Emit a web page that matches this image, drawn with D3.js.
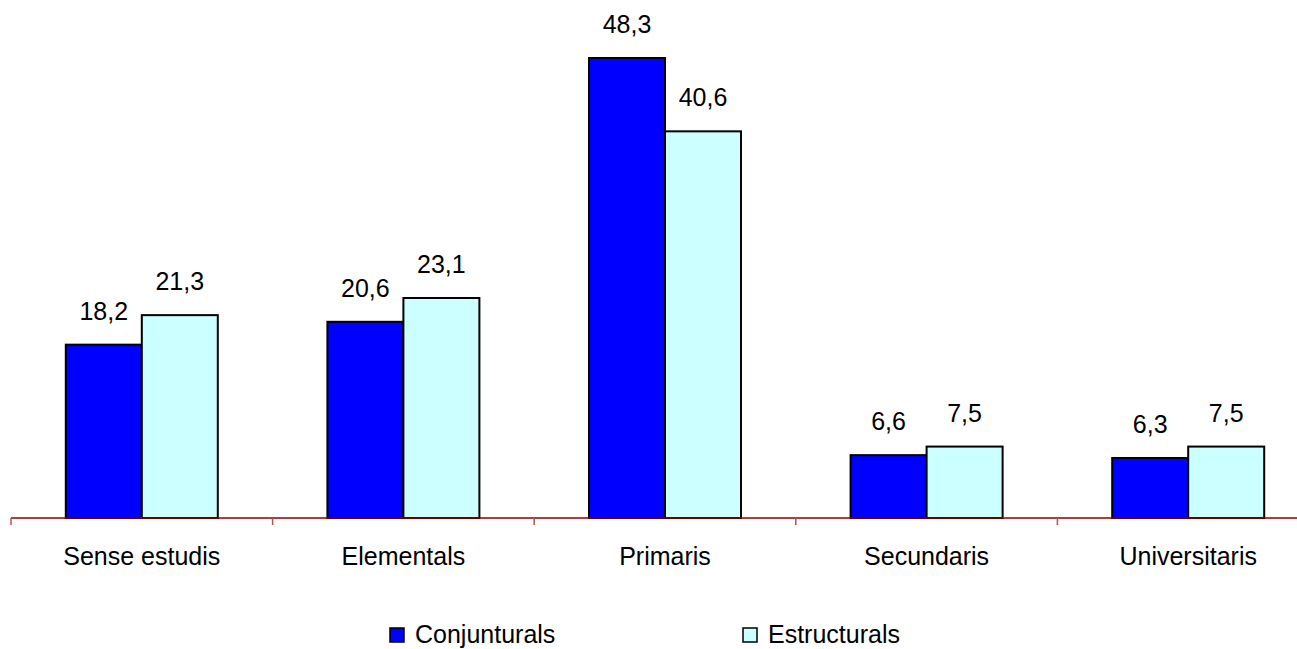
<!DOCTYPE html>
<html><head><meta charset="utf-8">
<script src="https://cdn.jsdelivr.net/npm/d3@7"></script>
<style>body{margin:0;background:#fff}svg{display:block}text{font-family:"Liberation Sans",Arial,sans-serif;fill:#000}</style>
</head><body><svg id="c" width="1297" height="649"></svg>
<script>
const categories = ["Sense estudis","Elementals","Primaris","Secundaris","Universitaris"];
const seriesNames = ["Conjunturals","Estructurals"];
const conjunturals = [18.2,20.6,48.3,6.6,6.3];
const estructurals = [21.3,23.1,40.6,7.5,7.5];
const colors = ["#0000FF","#CCFFFF"];

const svg = d3.select("#c");
const x = d3.scaleBand().domain(categories).range([11,1319]).paddingInner(0).paddingOuter(0);
const y = d3.scaleLinear().domain([0,48.3]).range([518,58]);

const data = categories.map((c,i)=>({c, vals:[conjunturals[i],estructurals[i]]}));
const bw = x.bandwidth()*76/261.6;
const xs = d3.scaleBand().domain(seriesNames).range([x.bandwidth()/2-bw, x.bandwidth()/2+bw]);

const g = svg.append("g");
const groups = g.selectAll("g.cat").data(data).join("g").attr("transform",d=>`translate(${x(d.c)},0)`);
groups.selectAll("rect").data(d=>d.vals.map((v,j)=>({v,s:seriesNames[j],j}))).join("rect")
 .attr("x",d=>xs(d.s)).attr("width",xs.bandwidth())
 .attr("y",d=>y(d.v)).attr("height",d=>y(0)-y(d.v))
 .attr("fill",d=>colors[d.j]).attr("stroke","#000").attr("stroke-width",2);
groups.selectAll("text.v").data(d=>d.vals.map((v,j)=>({v,s:seriesNames[j]}))).join("text")
 .attr("class","v").attr("x",d=>xs(d.s)+xs.bandwidth()/2).attr("y",d=>y(d.v)-25)
 .attr("text-anchor","middle").style("font-size","25px")
 .text(d=>d.v.toFixed(1).replace(".",","));

// axis
const axis = d3.axisBottom(x).tickSize(0).tickPadding(0);
const ag = svg.append("g").attr("transform","translate(0,518)").call(axis);
ag.select(".domain").remove();
ag.selectAll(".tick text").remove();
ag.append("line").attr("x1",11).attr("x2",1297).attr("stroke","#8B0000").attr("stroke-width",1.5);
const ticks = d3.range(categories.length+1).map(i=>11+i*x.step());
ag.selectAll("line.t").data(ticks).join("line").attr("class","t")
 .attr("x1",d=>d).attr("x2",d=>d).attr("y1",0).attr("y2",7).attr("stroke","#B05050").attr("stroke-width",1.5);
svg.append("g").selectAll("text").data(categories).join("text")
 .attr("x",d=>x(d)+x.bandwidth()/2).attr("y",565).attr("text-anchor","middle")
 .style("font-size","25px").text(d=>d);

// legend
const legX = [390,743];
const lg = svg.append("g").selectAll("g").data(seriesNames).join("g").attr("transform",(d,i)=>`translate(${legX[i]},628)`);
lg.append("rect").attr("width",14).attr("height",14).attr("fill",(d,i)=>colors[i]).attr("stroke","#000").attr("stroke-width",1.5);
lg.append("text").attr("x",25).attr("y",15).style("font-size","25px").text(d=>d);
</script></body></html>
